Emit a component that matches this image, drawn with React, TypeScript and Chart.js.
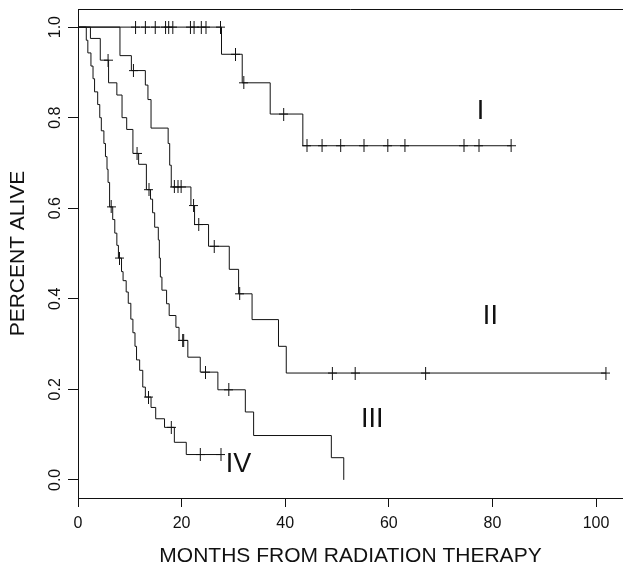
import React, { useEffect, useRef } from "react";
import { Chart, registerables } from "chart.js";

Chart.register(...registerables);

// Axis ticks
const xTicks = [0, 20, 40, 60, 80, 100];
const yTicks = [0, 0.2, 0.4, 0.6, 0.8, 1.0];

// Group I
const timesI = [0, 27.7, 31.7, 37.1, 43.4, 83.6];
const survI = [1, 0.94, 0.877, 0.808, 0.738, 0.738];
const censorI = [11.1, 13.0, 14.9, 16.9, 17.5, 18.3, 21.7, 22.4, 23.8, 24.7, 27.5, 30.4, 32.0, 39.7, 44.2, 47.1, 50.7, 55.2, 59.8, 63.1, 74.5, 77.4, 83.6];

// Group II
const timesII = [0, 8.1, 10.3, 13.0, 13.5, 14.1, 17.4, 17.7, 18.0, 21.8, 22.5, 25.2, 29.2, 31.0, 33.6, 38.7, 40.2, 101.9];
const survII = [1, 0.937, 0.904, 0.872, 0.84, 0.777, 0.743, 0.695, 0.647, 0.606, 0.564, 0.516, 0.465, 0.411, 0.354, 0.295, 0.236, 0.236];
const censorII = [10.7, 18.6, 19.3, 19.9, 22.3, 23.3, 26.3, 31.2, 49.1, 53.5, 67.1, 101.9];

// Group III
const timesIII = [0, 2.4, 4.3, 5.9, 7.5, 8.5, 9.4, 10.6, 11.7, 13.2, 14.0, 14.4, 14.8, 15.5, 15.7, 15.9, 16.2, 17.1, 17.6, 18.9, 19.5, 21.2, 23.6, 27.0, 32.3, 33.9, 48.9, 51.3];
const survIII = [1, 0.975, 0.927, 0.877, 0.85, 0.8, 0.774, 0.721, 0.697, 0.641, 0.62, 0.59, 0.558, 0.53, 0.49, 0.448, 0.419, 0.389, 0.363, 0.337, 0.308, 0.271, 0.238, 0.199, 0.15, 0.098, 0.049, 0.0];
const censorIII = [5.8, 11.4, 13.7, 20.2, 20.4, 24.6, 29.1];

// Group IV
const timesIV = [0, 1.6, 1.9, 2.5, 2.9, 3.2, 3.8, 4.2, 4.5, 5.0, 5.3, 5.6, 5.8, 6.1, 6.7, 7.1, 7.5, 7.8, 8.4, 8.7, 9.3, 9.7, 10.2, 10.6, 11.0, 11.3, 11.9, 12.5, 13.0, 14.1, 15.0, 16.7, 18.6, 20.9, 27.6];
const survIV = [1, 0.971, 0.943, 0.914, 0.886, 0.857, 0.829, 0.8, 0.771, 0.743, 0.714, 0.686, 0.657, 0.603, 0.575, 0.545, 0.518, 0.49, 0.46, 0.44, 0.415, 0.39, 0.355, 0.325, 0.295, 0.265, 0.242, 0.205, 0.183, 0.16, 0.135, 0.116, 0.083, 0.056, 0.056];
const censorIV = [6.4, 8.0, 13.6, 18.0, 23.6, 27.6];

// Group labels
const groupNames = ["I", "II", "III", "IV"];
const groupLabelX = [77.7, 79.6, 56.8, 31.0];
const groupLabelY = [0.814, 0.36, 0.133, 0.034];

const xTitle = "MONTHS FROM RADIATION THERAPY";
const yTitle = "PERCENT ALIVE";

const FONT = "'Liberation Sans', Arial, Helvetica, sans-serif";
const INK = "#111";

function survAt(times: number[], surv: number[], t: number): number {
  let v = surv[0];
  for (let i = 0; i < times.length; i++) {
    if (times[i] <= t) v = surv[i];
  }
  return v;
}

function makePlus(): HTMLCanvasElement {
  const c = document.createElement("canvas");
  c.width = 9;
  c.height = 13;
  const g = c.getContext("2d")!;
  g.strokeStyle = INK;
  g.lineWidth = 1;
  g.beginPath();
  g.moveTo(4.5, 0);
  g.lineTo(4.5, 13);
  g.moveTo(0, 6.5);
  g.lineTo(9, 6.5);
  g.stroke();
  return c;
}

export default function App() {
  const ref = useRef<HTMLCanvasElement | null>(null);

  useEffect(() => {
    if (!ref.current) return;
    const plus = makePlus();
    const groups = [
      [timesI, survI, censorI],
      [timesII, survII, censorII],
      [timesIII, survIII, censorIII],
      [timesIV, survIV, censorIV],
    ] as number[][][];

    const datasets: any[] = [];
    groups.forEach(([times, surv]) => {
      datasets.push({
        data: times.map((t, i) => ({ x: t, y: surv[i] })),
        showLine: true,
        stepped: true,
        borderColor: INK,
        borderWidth: 1,
        pointRadius: 0,
        fill: false,
      });
    });
    groups.forEach(([times, surv, cens]) => {
      datasets.push({
        data: cens.map((t) => ({ x: t, y: survAt(times, surv, t) })),
        showLine: false,
        pointStyle: plus,
        pointRadius: 6,
        borderColor: INK,
      });
    });

    const overlay = {
      id: "overlay",
      afterDraw(chart: any) {
        const ctx = chart.ctx;
        const { left, right, top } = chart.chartArea;
        const xs = chart.scales.x;
        const ys = chart.scales.y;
        ctx.save();
        // top frame line
        ctx.strokeStyle = INK;
        ctx.lineWidth = 1;
        ctx.beginPath();
        ctx.moveTo(left, Math.round(top) + 0.5);
        ctx.lineTo(right, Math.round(top) + 0.5);
        ctx.stroke();
        // rotated y tick labels
        ctx.fillStyle = INK;
        ctx.font = `16px ${FONT}`;
        ctx.textAlign = "center";
        ctx.textBaseline = "middle";
        yTicks.forEach((v) => {
          const py = ys.getPixelForValue(v);
          ctx.save();
          ctx.translate(56, py);
          ctx.rotate(-Math.PI / 2);
          ctx.fillText(v.toFixed(1), 0, 0);
          ctx.restore();
        });
        // group labels
        ctx.font = `27px ${FONT}`;
        groupNames.forEach((n, i) => {
          ctx.fillText(n, xs.getPixelForValue(groupLabelX[i]), ys.getPixelForValue(groupLabelY[i]));
        });
        ctx.restore();
      },
    };

    const chart = new Chart(ref.current, {
      type: "scatter",
      data: { datasets },
      options: {
        animation: false,
        responsive: false,
        events: [],
        layout: { autoPadding: false, padding: { top: 9, left: 0, right: 0, bottom: 0 } },
        plugins: { legend: { display: false }, tooltip: { enabled: false } },
        scales: {
          x: {
            type: "linear",
            min: 0,
            max: 105.2,
            afterBuildTicks: (s: any) => {
              s.ticks = xTicks.map((v) => ({ value: v }));
            },
            afterFit: (s: any) => {
              s.height = 71;
            },
            grid: {
              display: true,
              drawOnChartArea: false,
              drawTicks: true,
              tickLength: 9,
              color: INK,
              lineWidth: 1,
            },
            border: { display: true, color: INK, width: 1 },
            ticks: {
              color: INK,
              font: { family: FONT, size: 16 },
              padding: 7,
              maxRotation: 0,
              minRotation: 0,
              callback: (v: any) => String(v),
            },
            title: {
              display: true,
              text: xTitle,
              color: INK,
              font: { family: FONT, size: 21 },
              padding: { top: 0, bottom: 0 },
            },
          },
          y: {
            type: "linear",
            min: -0.04,
            max: 1.04,
            afterBuildTicks: (s: any) => {
              s.ticks = yTicks.map((v) => ({ value: v }));
            },
            afterFit: (s: any) => {
              s.width = 78;
            },
            grid: {
              display: true,
              drawOnChartArea: false,
              drawTicks: true,
              tickLength: 10,
              color: INK,
              lineWidth: 1,
            },
            border: { display: true, color: INK, width: 1 },
            ticks: { display: false },
            title: {
              display: true,
              text: yTitle,
              color: INK,
              font: { family: FONT, size: 21 },
              padding: { top: 6, bottom: 0 },
            },
          },
        },
      },
      plugins: [overlay],
    } as any);

    return () => chart.destroy();
  }, []);

  return (
    <div style={{ position: "fixed", left: 0, top: 0, width: 623, height: 569, background: "#fff" }}>
      <canvas ref={ref} width={623} height={569} style={{ display: "block", width: 623, height: 569 }} />
    </div>
  );
}
